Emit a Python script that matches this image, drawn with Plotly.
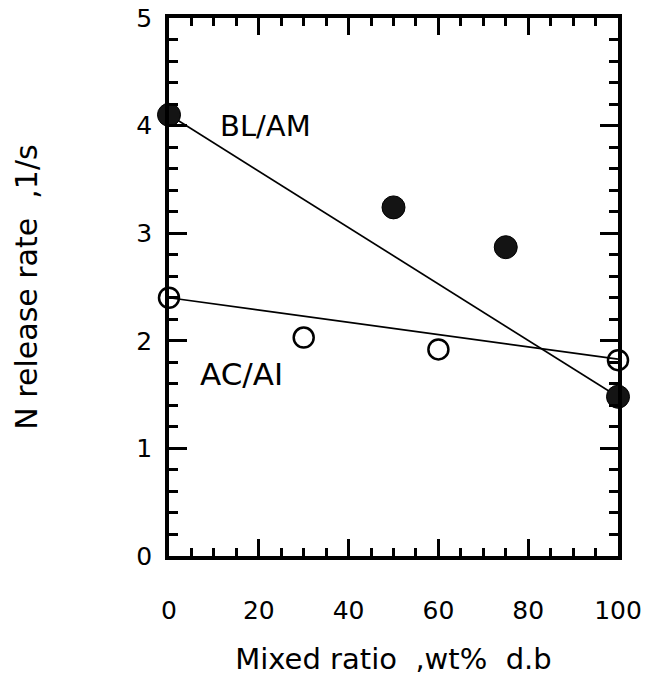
import plotly.graph_objects as go

# Data
blam_x = [0, 50, 75, 100]
blam_y = [4.10, 3.24, 2.87, 1.48]
acai_x = [0, 30, 60, 100]
acai_y = [2.40, 2.03, 1.92, 1.82]

# Hand-drawn trend lines (endpoints)
blam_line_x = [0, 100]
blam_line_y = [4.10, 1.48]
acai_line_x = [0, 100]
acai_line_y = [2.40, 1.83]

x_ticks = [0, 20, 40, 60, 80, 100]
y_ticks = [0, 1, 2, 3, 4, 5]

FONT = "DejaVu Sans"

fig = go.Figure()

fig.add_trace(go.Scatter(x=blam_line_x, y=blam_line_y, mode="lines",
                         line=dict(color="black", width=1.7), showlegend=False))
fig.add_trace(go.Scatter(x=acai_line_x, y=acai_line_y, mode="lines",
                         line=dict(color="black", width=1.7), showlegend=False))
fig.add_trace(go.Scatter(x=blam_x, y=blam_y, mode="markers", name="BL/AM",
                         marker=dict(symbol="circle", size=23, color="#141414",
                                     line=dict(color="black", width=1)),
                         showlegend=False, cliponaxis=False))
fig.add_trace(go.Scatter(x=acai_x, y=acai_y, mode="markers", name="AC/AI",
                         marker=dict(symbol="circle-open", size=20, color="black",
                                     line=dict(color="black", width=2.5)),
                         showlegend=False, cliponaxis=False))

fig.add_annotation(x=11, y=4.0, text="BL/AM", showarrow=False, xanchor="left",
                   yanchor="middle", font=dict(family=FONT, size=29, color="black"))
fig.add_annotation(x=6.4, y=1.69, text="AC/AI", showarrow=False, xanchor="left",
                   yanchor="middle", font=dict(family=FONT, size=31, color="black"))

axis_common = dict(
    showgrid=False, zeroline=False, showline=True, linecolor="black", linewidth=3.5,
    mirror="ticks", ticks="inside", tickcolor="black", tickwidth=2.5, automargin=False,
    ticklabeloverflow="allow",
    tickfont=dict(family=FONT, size=25, color="black"),
)

fig.update_xaxes(
    range=[0, 100], tickvals=x_ticks, ticklen=17,
    minor=dict(dtick=5, ticks="inside", ticklen=8, tickwidth=2.5, tickcolor="black", showgrid=False),
    ticklabelstandoff=29,
    title=dict(text="Mixed ratio\u00a0\u00a0,wt%\u00a0\u00a0d.b",
               font=dict(family=FONT, size=29, color="black"), standoff=26),
    **axis_common,
)
fig.update_yaxes(
    range=[0, 5], tickvals=y_ticks, ticklen=18,
    minor=dict(dtick=0.2, ticks="inside", ticklen=9, tickwidth=2.5, tickcolor="black", showgrid=False),
    ticklabelstandoff=8,
    title=dict(text="N release rate\u00a0\u00a0,1/s",
               font=dict(family=FONT, size=30, color="black"), standoff=91),
    **axis_common,
)

fig.update_layout(
    template="none",
    width=646, height=681,
    margin=dict(l=169, r=28, t=18, b=125, autoexpand=False),
    plot_bgcolor="white", paper_bgcolor="white",
    font=dict(family=FONT, color="black"),
)

# remove the default 8px page margin so the figure fills the window exactly
fig.write_html(
    "out.html",
    config={"displayModeBar": False},
    post_script="document.body.style.margin='0';document.body.style.overflow='hidden';",
)
